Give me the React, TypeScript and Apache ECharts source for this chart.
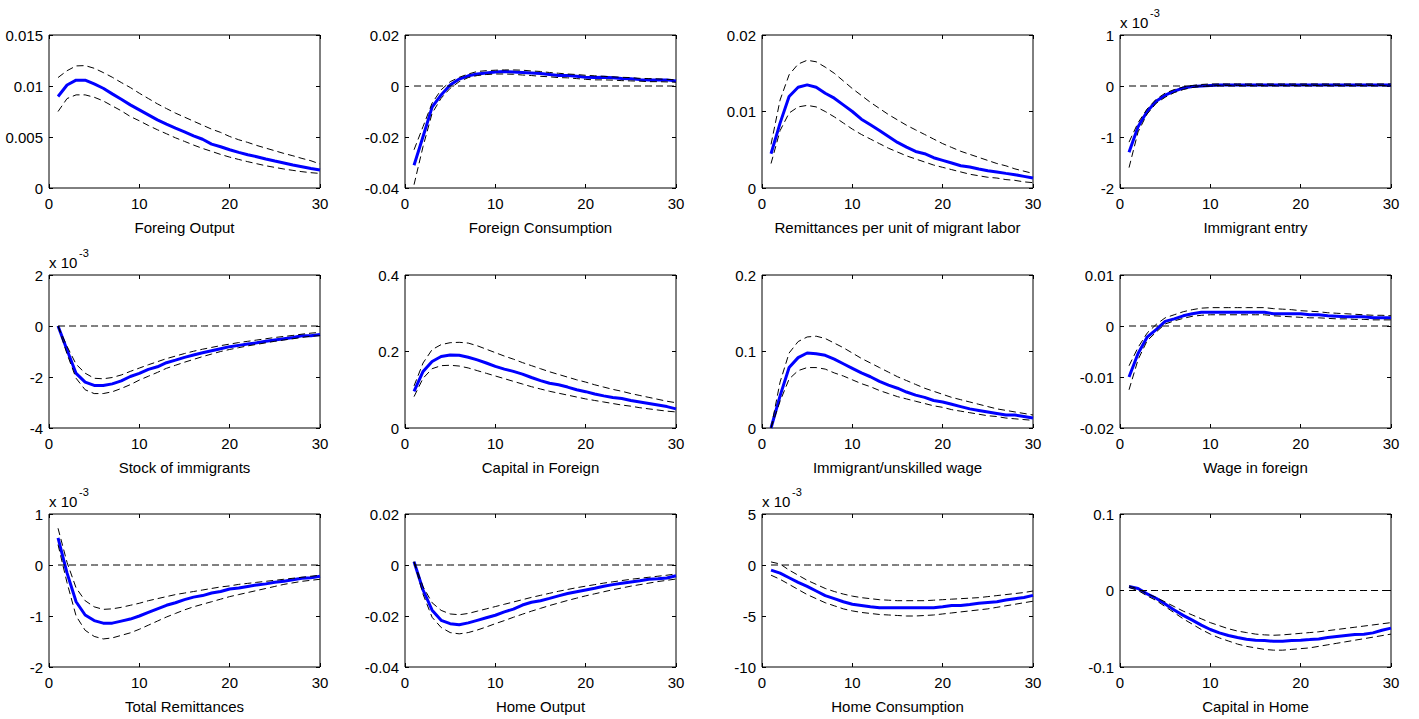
import React, { useEffect, useRef } from "react";
import * as echarts from "echarts";

const periods = [1,2,3,4,5,6,7,8,9,10,11,12,13,14,15,16,17,18,19,20,21,22,23,24,25,26,27,28,29,30];

// Foreing Output
const foreignOutputMean = [0.00897,0.0101,0.01057,0.01057,0.0102,0.00978,0.00923,0.0087,0.00815,0.00766,0.00717,0.00668,0.00626,0.00587,0.00551,0.00512,0.00478,0.0043,0.00404,0.00375,0.00349,0.00326,0.00307,0.00284,0.00264,0.00245,0.00225,0.00209,0.00192,0.00176];
const foreignOutputUpper = [0.01083,0.0115,0.01197,0.012,0.01174,0.01132,0.01086,0.01034,0.00985,0.00929,0.00877,0.00825,0.00779,0.00734,0.00695,0.00655,0.00616,0.00577,0.00545,0.00505,0.00473,0.00447,0.00417,0.00391,0.00365,0.00339,0.00316,0.0029,0.00267,0.00235];
const foreignOutputLower = [0.0075,0.00877,0.00913,0.00913,0.0089,0.00854,0.00805,0.00757,0.00701,0.00659,0.00613,0.00571,0.00532,0.00492,0.00457,0.00421,0.00388,0.00359,0.00329,0.00303,0.0028,0.00258,0.00238,0.00218,0.00202,0.00186,0.00173,0.0016,0.0015,0.00143];

// Foreign Consumption
const foreignConsMean = [-0.0311,-0.0198,-0.0083,-0.0035,0.0004,0.0027,0.004,0.0047,0.0051,0.0055,0.0057,0.0055,0.0053,0.0051,0.0049,0.0045,0.0041,0.0041,0.0038,0.0034,0.0033,0.0034,0.0032,0.0029,0.0028,0.0025,0.0024,0.0024,0.0024,0.002];
const foreignConsUpper = [-0.025,-0.0159,-0.0067,-0.0015,0.0017,0.0034,0.0047,0.0057,0.006,0.0062,0.0063,0.0063,0.0062,0.0059,0.0057,0.0053,0.005,0.0047,0.0045,0.0042,0.004,0.0038,0.0036,0.0034,0.0033,0.003,0.0029,0.0028,0.0026,0.0024];
const foreignConsLower = [-0.0387,-0.0237,-0.0107,-0.0048,-0.0009,0.0017,0.0033,0.0041,0.0045,0.0047,0.0047,0.0046,0.0043,0.0041,0.0038,0.0036,0.0033,0.0032,0.0029,0.0026,0.0024,0.0024,0.0023,0.0021,0.002,0.0019,0.0017,0.0017,0.0016,0.0015];

// Remittances per unit of migrant labor
const remitUnitMean = [0.00448,0.00848,0.01196,0.01317,0.01348,0.01317,0.01239,0.01174,0.01087,0.01,0.009,0.00826,0.00752,0.00674,0.00596,0.00535,0.00478,0.00448,0.00396,0.00361,0.00326,0.00291,0.00274,0.00248,0.00226,0.00209,0.00191,0.00174,0.00152,0.0013];
const remitUnitUpper = [0.0057,0.0115,0.0148,0.0162,0.0167,0.0165,0.0158,0.015,0.014,0.013,0.0121,0.0112,0.0104,0.0096,0.0089,0.0082,0.0076,0.007,0.0064,0.0058,0.0053,0.0048,0.0044,0.004,0.0036,0.0032,0.0029,0.0025,0.0022,0.0019];
const remitUnitLower = [0.0032,0.0075,0.0098,0.0106,0.0108,0.0106,0.01,0.0093,0.0085,0.0077,0.007,0.0064,0.0058,0.0052,0.0047,0.0042,0.0038,0.0034,0.003,0.0027,0.0024,0.0021,0.0018,0.0016,0.0014,0.0013,0.0011,0.001,0.0008,0.0007];

// Immigrant entry (x 10^-3)
const entryMean = [-1.3,-0.8,-0.5,-0.3,-0.18,-0.1,-0.04,-0.01,0,0.01,0.02,0.02,0.02,0.02,0.02,0.02,0.02,0.02,0.02,0.02,0.02,0.02,0.02,0.02,0.02,0.02,0.02,0.02,0.02,0.02];
const entryUpper = [-1.1,-0.72,-0.45,-0.26,-0.14,-0.07,-0.02,0.01,0.03,0.04,0.04,0.04,0.04,0.04,0.04,0.04,0.04,0.04,0.04,0.04,0.04,0.04,0.04,0.04,0.04,0.04,0.04,0.04,0.04,0.04];
const entryLower = [-1.6,-0.9,-0.55,-0.34,-0.22,-0.13,-0.07,-0.03,-0.01,0,0.01,0.01,0.01,0.01,0.01,0.01,0.01,0.01,0.01,0.01,0.01,0.01,0.01,0.01,0.01,0.01,0.01,0.01,0.01,0.01];

// Stock of immigrants (x 10^-3)
const stockMean = [0,-0.94,-1.86,-2.2,-2.33,-2.33,-2.27,-2.15,-1.98,-1.86,-1.7,-1.6,-1.44,-1.34,-1.23,-1.14,-1.05,-0.97,-0.89,-0.81,-0.76,-0.71,-0.66,-0.6,-0.55,-0.5,-0.45,-0.38,-0.38,-0.33];
const stockUpper = [0,-0.8,-1.5,-1.85,-2.05,-2.07,-2.02,-1.92,-1.78,-1.65,-1.52,-1.4,-1.28,-1.18,-1.08,-0.99,-0.91,-0.84,-0.77,-0.71,-0.65,-0.6,-0.55,-0.5,-0.45,-0.41,-0.37,-0.32,-0.28,-0.25];
const stockLower = [0,-1.1,-2.05,-2.5,-2.65,-2.65,-2.58,-2.45,-2.3,-2.12,-1.97,-1.82,-1.66,-1.54,-1.42,-1.31,-1.2,-1.1,-1,-0.92,-0.85,-0.78,-0.72,-0.66,-0.6,-0.55,-0.5,-0.45,-0.4,-0.38];

// Capital in Foreign
const capForMean = [0.096,0.148,0.174,0.187,0.191,0.19,0.185,0.178,0.17,0.161,0.154,0.148,0.141,0.132,0.124,0.117,0.113,0.107,0.1,0.095,0.089,0.084,0.08,0.077,0.072,0.068,0.064,0.06,0.056,0.05];
const capForUpper = [0.11,0.17,0.205,0.218,0.223,0.224,0.222,0.215,0.206,0.197,0.188,0.18,0.171,0.163,0.155,0.147,0.14,0.133,0.126,0.12,0.113,0.107,0.101,0.096,0.09,0.085,0.08,0.075,0.07,0.066];
const capForLower = [0.082,0.13,0.155,0.163,0.164,0.162,0.157,0.15,0.143,0.136,0.129,0.122,0.115,0.108,0.102,0.096,0.091,0.086,0.081,0.076,0.072,0.068,0.064,0.06,0.057,0.053,0.05,0.047,0.044,0.042];

// Immigrant/unskilled wage
const immWageMean = [0,0.042,0.079,0.092,0.098,0.097,0.095,0.09,0.084,0.078,0.072,0.067,0.061,0.056,0.052,0.047,0.043,0.04,0.036,0.034,0.031,0.028,0.025,0.023,0.021,0.019,0.017,0.017,0.015,0.013];
const immWageUpper = [0,0.06,0.098,0.113,0.119,0.12,0.117,0.111,0.105,0.098,0.091,0.085,0.079,0.073,0.067,0.062,0.057,0.052,0.048,0.044,0.04,0.037,0.034,0.031,0.028,0.025,0.023,0.021,0.019,0.017];
const immWageLower = [0,0.035,0.064,0.075,0.079,0.079,0.077,0.072,0.068,0.063,0.058,0.054,0.049,0.045,0.041,0.038,0.035,0.032,0.029,0.027,0.024,0.022,0.02,0.018,0.016,0.015,0.013,0.012,0.011,0.01];

// Wage in foreign
const wageForMean = [-0.01,-0.0054,-0.0022,-0.0007,0.0009,0.0014,0.002,0.0024,0.0027,0.0027,0.0027,0.0027,0.0027,0.0027,0.0027,0.0027,0.0024,0.0024,0.0024,0.0024,0.0022,0.0022,0.002,0.0019,0.0018,0.0018,0.0018,0.0016,0.0016,0.0016];
const wageForUpper = [-0.0078,-0.0042,-0.0014,0.0003,0.0016,0.0022,0.0028,0.0032,0.0035,0.0036,0.0036,0.0036,0.0036,0.0036,0.0036,0.0036,0.0034,0.0033,0.0032,0.003,0.0029,0.0028,0.0026,0.0025,0.0024,0.0023,0.0022,0.0021,0.0021,0.002];
const wageForLower = [-0.0125,-0.0066,-0.0029,-0.0012,0.0004,0.001,0.0015,0.0019,0.0021,0.0022,0.0022,0.0022,0.0022,0.0022,0.0022,0.0022,0.002,0.0019,0.0018,0.0017,0.0016,0.0016,0.0015,0.0014,0.0014,0.0013,0.0013,0.0012,0.0012,0.0012];

// Total Remittances (x 10^-3)
const totRemitMean = [0.53,-0.16,-0.72,-0.98,-1.09,-1.14,-1.14,-1.1,-1.06,-1,-0.93,-0.86,-0.79,-0.74,-0.68,-0.63,-0.6,-0.55,-0.52,-0.47,-0.45,-0.42,-0.39,-0.37,-0.34,-0.32,-0.29,-0.26,-0.25,-0.22];
const totRemitUpper = [0.72,0.05,-0.45,-0.7,-0.82,-0.87,-0.86,-0.83,-0.79,-0.75,-0.7,-0.66,-0.62,-0.58,-0.55,-0.52,-0.49,-0.46,-0.43,-0.41,-0.38,-0.36,-0.34,-0.32,-0.3,-0.28,-0.26,-0.24,-0.22,-0.2];
const totRemitLower = [0.4,-0.35,-1,-1.28,-1.4,-1.45,-1.43,-1.38,-1.33,-1.26,-1.18,-1.1,-1.02,-0.95,-0.88,-0.82,-0.77,-0.72,-0.67,-0.62,-0.58,-0.54,-0.5,-0.46,-0.42,-0.38,-0.35,-0.32,-0.3,-0.28];

// Home Output
const homeOutMean = [0.0013,-0.0098,-0.0177,-0.0217,-0.023,-0.0234,-0.0227,-0.0217,-0.0207,-0.0197,-0.0184,-0.0173,-0.0157,-0.0146,-0.014,-0.0131,-0.0121,-0.0112,-0.0105,-0.0098,-0.0091,-0.0083,-0.0077,-0.0072,-0.0067,-0.0062,-0.0056,-0.0054,-0.0051,-0.0042];
const homeOutUpper = [0.0013,-0.0085,-0.0148,-0.0178,-0.0192,-0.0195,-0.019,-0.0181,-0.0172,-0.0163,-0.0154,-0.0145,-0.0136,-0.0127,-0.0119,-0.0111,-0.0103,-0.0096,-0.0089,-0.0083,-0.0077,-0.0071,-0.0066,-0.0061,-0.0056,-0.0052,-0.0048,-0.0044,-0.004,-0.0035];
const homeOutLower = [0.0013,-0.0115,-0.0205,-0.0245,-0.0265,-0.027,-0.0265,-0.0255,-0.0243,-0.023,-0.0218,-0.0205,-0.0193,-0.0181,-0.017,-0.0159,-0.0149,-0.0139,-0.013,-0.0121,-0.0113,-0.0105,-0.0097,-0.009,-0.0083,-0.0077,-0.0071,-0.0065,-0.006,-0.0055];

// Home Consumption (x 10^-3)
const homeConsMean = [-0.5,-0.8,-1.25,-1.7,-2.1,-2.55,-3,-3.3,-3.6,-3.85,-3.97,-4.1,-4.2,-4.2,-4.2,-4.2,-4.2,-4.2,-4.2,-4.1,-3.97,-3.97,-3.87,-3.74,-3.67,-3.6,-3.44,-3.3,-3.18,-2.98];
const homeConsUpper = [0.3,0.1,-0.5,-1,-1.5,-1.9,-2.3,-2.6,-2.85,-3.05,-3.2,-3.3,-3.4,-3.45,-3.5,-3.5,-3.5,-3.5,-3.45,-3.4,-3.35,-3.3,-3.25,-3.2,-3.1,-3,-2.9,-2.8,-2.7,-2.55];
const homeConsLower = [-1,-1.4,-1.9,-2.4,-2.9,-3.3,-3.7,-4,-4.3,-4.5,-4.65,-4.75,-4.85,-4.9,-4.95,-5,-5,-4.95,-4.9,-4.8,-4.7,-4.6,-4.5,-4.4,-4.3,-4.15,-4,-3.85,-3.7,-3.55];

// Capital in Home
const capHomeMean = [0.0053,0.0026,-0.0044,-0.0101,-0.0176,-0.0255,-0.0325,-0.0387,-0.0453,-0.051,-0.0554,-0.0589,-0.0615,-0.0637,-0.065,-0.0655,-0.0664,-0.0664,-0.0655,-0.065,-0.0642,-0.0633,-0.0615,-0.0602,-0.0589,-0.0576,-0.0571,-0.0554,-0.0519,-0.0492];
const capHomeUpper = [0.006,0.002,-0.004,-0.009,-0.015,-0.021,-0.027,-0.032,-0.037,-0.042,-0.046,-0.05,-0.053,-0.055,-0.057,-0.058,-0.0585,-0.058,-0.057,-0.056,-0.055,-0.054,-0.0525,-0.051,-0.0495,-0.048,-0.0465,-0.045,-0.0435,-0.042];
const capHomeLower = [0.004,0,-0.007,-0.013,-0.021,-0.029,-0.037,-0.044,-0.051,-0.057,-0.062,-0.066,-0.07,-0.073,-0.075,-0.077,-0.078,-0.078,-0.077,-0.076,-0.075,-0.073,-0.071,-0.069,-0.067,-0.065,-0.063,-0.061,-0.059,-0.057];

const titles = [
  "Foreing Output", "Foreign Consumption", "Remittances per unit of migrant labor", "Immigrant entry",
  "Stock of immigrants", "Capital in Foreign", "Immigrant/unskilled wage", "Wage in foreign",
  "Total Remittances", "Home Output", "Home Consumption", "Capital in Home",
];
const means = [foreignOutputMean, foreignConsMean, remitUnitMean, entryMean, stockMean, capForMean, immWageMean, wageForMean, totRemitMean, homeOutMean, homeConsMean, capHomeMean];
const uppers = [foreignOutputUpper, foreignConsUpper, remitUnitUpper, entryUpper, stockUpper, capForUpper, immWageUpper, wageForUpper, totRemitUpper, homeOutUpper, homeConsUpper, capHomeUpper];
const lowers = [foreignOutputLower, foreignConsLower, remitUnitLower, entryLower, stockLower, capForLower, immWageLower, wageForLower, totRemitLower, homeOutLower, homeConsLower, capHomeLower];
const yMins = [0, -0.04, 0, -2, -4, 0, 0, -0.02, -2, -0.04, -10, -0.1];
const yMaxs = [0.015, 0.02, 0.02, 1, 2, 0.4, 0.2, 0.01, 1, 0.02, 5, 0.1];
const yIntervals = [0.005, 0.02, 0.01, 1, 2, 0.2, 0.1, 0.01, 1, 0.02, 5, 0.1];
const hasZeroLine = [false, true, false, true, true, false, false, true, true, true, true, true];
const hasExponent = [false, false, false, true, true, false, false, false, true, false, true, false];
const xTicks = [0, 10, 20, 30];

const FONT = "'Liberation Sans', Arial, Helvetica, sans-serif";
const colLefts = [49, 405, 762, 1120];
const rowTops = [35, 275, 514];
const PW = 271;
const PH = 153;

export default function App() {
  const ref = useRef<HTMLDivElement>(null);
  useEffect(() => {
    if (!ref.current) return;
    const chart = echarts.init(ref.current, undefined, { renderer: "svg" });
    const grids: any[] = [];
    const xAxes: any[] = [];
    const yAxes: any[] = [];
    const series: any[] = [];
    const graphics: any[] = [];
    const fmt = (v: number) => String(Math.round(v * 1e6) / 1e6);
    titles.forEach((title, i) => {
      const left = colLefts[i % 4];
      const top = rowTops[Math.floor(i / 4)];
      grids.push({ left, top, width: PW, height: PH, show: true, borderColor: "#000", borderWidth: 1, backgroundColor: "#fff" });
      const tick = { show: true, inside: true, length: 4, lineStyle: { color: "#000", width: 1 } };
      const noLine = { show: false, onZero: false };
      xAxes.push({
        type: "value", gridIndex: i, min: xTicks[0], max: xTicks[xTicks.length - 1], interval: 10, position: "bottom",
        axisLine: noLine, axisTick: tick, splitLine: { show: false },
        axisLabel: { color: "#000", fontSize: 15, fontFamily: FONT, margin: 8 },
        name: title, nameLocation: "middle", nameGap: 32,
        nameTextStyle: { color: "#000", fontSize: 15, fontFamily: FONT },
      });
      xAxes.push({
        type: "value", gridIndex: i, min: xTicks[0], max: xTicks[xTicks.length - 1], interval: 10, position: "top",
        axisLine: noLine, axisTick: tick, splitLine: { show: false }, axisLabel: { show: false },
      });
      yAxes.push({
        type: "value", gridIndex: i, min: yMins[i], max: yMaxs[i], interval: yIntervals[i], position: "left",
        axisLine: noLine, axisTick: tick, splitLine: { show: false },
        axisLabel: { color: "#000", fontSize: 15, fontFamily: FONT, margin: 6, formatter: fmt },
      });
      yAxes.push({
        type: "value", gridIndex: i, min: yMins[i], max: yMaxs[i], interval: yIntervals[i], position: "right",
        axisLine: noLine, axisTick: tick, splitLine: { show: false }, axisLabel: { show: false },
      });
      const xi = i * 2;
      series.push({
        type: "line", xAxisIndex: xi, yAxisIndex: xi, symbol: "none", silent: true,
        data: periods.map((p, k) => [p, means[i][k]]),
        lineStyle: { color: "#0000ff", width: 3 },
      });
      [uppers[i], lowers[i]].forEach((arr) => {
        series.push({
          type: "line", xAxisIndex: xi, yAxisIndex: xi, symbol: "none", silent: true,
          data: periods.map((p, k) => [p, arr[k]]),
          lineStyle: { color: "#000", width: 1, type: [7, 4] },
        });
      });
      if (hasZeroLine[i]) {
        series.push({
          type: "line", xAxisIndex: xi, yAxisIndex: xi, symbol: "none", silent: true,
          data: periods.map((p) => [p, 0]),
          lineStyle: { color: "#000", width: 1, type: [7, 4] },
        });
      }
      if (hasExponent[i]) {
        graphics.push({
          type: "text", x: left, y: top - 13,
          style: { text: "x 10", fontSize: 15, fontFamily: FONT, fill: "#000", align: "left", verticalAlign: "middle" },
        });
        graphics.push({
          type: "text", x: left + 30, y: top - 22,
          style: { text: "-3", fontSize: 11, fontFamily: FONT, fill: "#000", align: "left", verticalAlign: "middle" },
        });
      }
    });
    chart.setOption({
      animation: false,
      backgroundColor: "#fff",
      grid: grids,
      xAxis: xAxes,
      yAxis: yAxes,
      series,
      graphic: graphics,
    });
    return () => chart.dispose();
  }, []);
  return <div ref={ref} style={{ position: "fixed", left: 0, top: 0, width: 1419, height: 719, background: "#fff" }} />;
}
